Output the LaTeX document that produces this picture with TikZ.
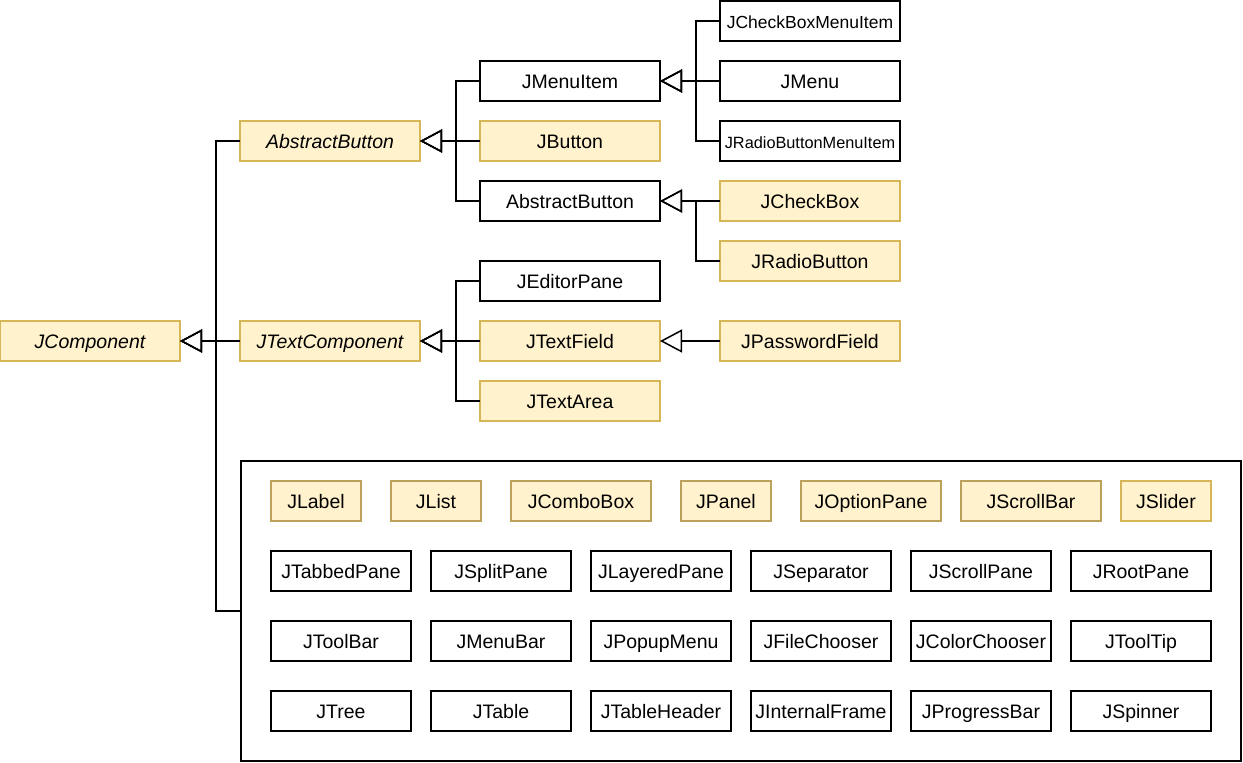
\documentclass[tikz,border=0pt]{standalone}
\usepackage{fontspec}
\setmainfont{Liberation Sans}
\usepackage{xcolor}
\usetikzlibrary{arrows.meta, positioning}
\definecolor{notefill}{HTML}{FFF2CC}
\definecolor{notedraw}{HTML}{D6B656}
\definecolor{notedark}{HTML}{BBA25C}

\begin{document}
\begin{tikzpicture}[
    x=1pt, y=-1pt,
    cls/.style={draw, line width=1.5pt, outer sep=0pt, inner sep=0pt, minimum width=180pt, minimum height=40pt, text height=17pt, text depth=2pt, font=\fontsize{19.5}{23}\selectfont},
    swing/.style={cls, fill=notefill, draw=notedraw},
    abstr/.style={font=\fontsize{19.5}{23}\selectfont\itshape},
    small/.style={minimum width=140pt},
    tiny/.style={minimum width=90pt},
    inherit/.style={-{Triangle[open, length=22pt, width=23pt]}, line width=1.5pt},
    node distance=20pt
]
    \useasboundingbox (0,0) rectangle (1243,763);

    % Roots
    \node[swing, abstr] (jcomp) at (90,341) {JComponent};
    \node[swing, abstr] (absbtn) at (330,141) {AbstractButton};
    \node[swing, abstr] (jtextcomp) at (330,341) {JTextComponent};

    % Buttons
    \node[cls] (jmenuitem) at (570,81) {JMenuItem};
    \node[swing, below=of jmenuitem] (jbutton) {JButton};
    \node[cls, below=of jbutton] (absbtn2) {AbstractButton};

    % Menu items
    \node[cls, font=\fontsize{17.5}{20}\selectfont] (jcbmenuitem) at (810,21) {JCheckBoxMenuItem};
    \node[cls, below=of jcbmenuitem] (jmenu) {JMenu};
    \node[cls, below=of jmenu, font=\fontsize{16.3}{19}\selectfont] (jrbmenuitem) {JRadioButtonMenuItem};

    % Toggle buttons
    \node[swing] (jcheckbox) at (810,201) {JCheckBox};
    \node[swing, below=of jcheckbox] (jradiobtn) {JRadioButton};

    % Text components
    \node[cls] (jeditorpane) at (570,281) {JEditorPane};
    \node[swing, below=of jeditorpane] (jtextfield) {JTextField};
    \node[swing, below=of jtextfield] (jtextarea) {JTextArea};
    \node[swing] (jpassword) at (810,341) {JPasswordField};

    % Other components
    \node[draw, line width=1.5pt, outer sep=0pt, minimum width=1000pt, minimum height=300pt] (others) at (741,611) {};

    \node[swing, tiny, draw=notedark] (jlabel) at (316,501) {JLabel};
    \node[swing, tiny, draw=notedark, right=30pt of jlabel] (jlist) {JList};
    \node[swing, small, draw=notedark, right=30pt of jlist] (jcombobox) {JComboBox};
    \node[swing, tiny, draw=notedark, right=30pt of jcombobox] (jpanel) {JPanel};
    \node[swing, small, draw=notedark, right=30pt of jpanel] (joptionpane) {JOptionPane};
    \node[swing, small, draw=notedark, right=of joptionpane] (jscrollbar) {JScrollBar};
    \node[swing, tiny, right=of jscrollbar] (jslider) {JSlider};

    \node[cls, small] (jtabbedpane) at (341,571) {JTabbedPane};
    \node[cls, small, right=of jtabbedpane] (jsplitpane) {JSplitPane};
    \node[cls, small, right=of jsplitpane] (jlayeredpane) {JLayeredPane};
    \node[cls, small, right=of jlayeredpane] (jseparator) {JSeparator};
    \node[cls, small, right=of jseparator] (jscrollpane) {JScrollPane};
    \node[cls, small, right=of jscrollpane] (jrootpane) {JRootPane};

    \node[cls, small, below=30pt of jtabbedpane] (jtoolbar) {JToolBar};
    \node[cls, small, right=of jtoolbar] (jmenubar) {JMenuBar};
    \node[cls, small, right=of jmenubar] (jpopupmenu) {JPopupMenu};
    \node[cls, small, right=of jpopupmenu] (jfilechooser) {JFileChooser};
    \node[cls, small, right=of jfilechooser] (jcolorchooser) {JColorChooser};
    \node[cls, small, right=of jcolorchooser] (jtooltip) {JToolTip};

    \node[cls, small, below=30pt of jtoolbar] (jtree) {JTree};
    \node[cls, small, right=of jtree] (jtable) {JTable};
    \node[cls, small, right=of jtable] (jtableheader) {JTableHeader};
    \node[cls, small, right=of jtableheader] (jinternalframe) {JInternalFrame};
    \node[cls, small, right=of jinternalframe] (jprogressbar) {JProgressBar};
    \node[cls, small, right=of jprogressbar] (jspinner) {JSpinner};

    % Inheritance
    \draw[inherit] (absbtn.west) -- ++(-24,0) |- (jcomp.east);
    \draw[inherit] (jtextcomp.west) -- (jcomp.east);
    \draw[inherit] (others.west) -- ++(-25,0) |- (jcomp.east);

    \draw[inherit] (jmenuitem.west) -- ++(-24,0) |- (absbtn.east);
    \draw[inherit] (jbutton.west) -- (absbtn.east);
    \draw[inherit] (absbtn2.west) -- ++(-24,0) |- (absbtn.east);

    \draw[inherit] (jcbmenuitem.west) -- ++(-24,0) |- (jmenuitem.east);
    \draw[inherit] (jmenu.west) -- (jmenuitem.east);
    \draw[inherit] (jrbmenuitem.west) -- ++(-24,0) |- (jmenuitem.east);

    \draw[inherit] (jcheckbox.west) -- (absbtn2.east);
    \draw[inherit] (jradiobtn.west) -- ++(-24,0) |- (absbtn2.east);

    \draw[inherit] (jeditorpane.west) -- ++(-24,0) |- (jtextcomp.east);
    \draw[inherit] (jtextfield.west) -- (jtextcomp.east);
    \draw[inherit] (jtextarea.west) -- ++(-24,0) |- (jtextcomp.east);

    \draw[inherit] (jpassword.west) -- (jtextfield.east);
\end{tikzpicture}
\end{document}
